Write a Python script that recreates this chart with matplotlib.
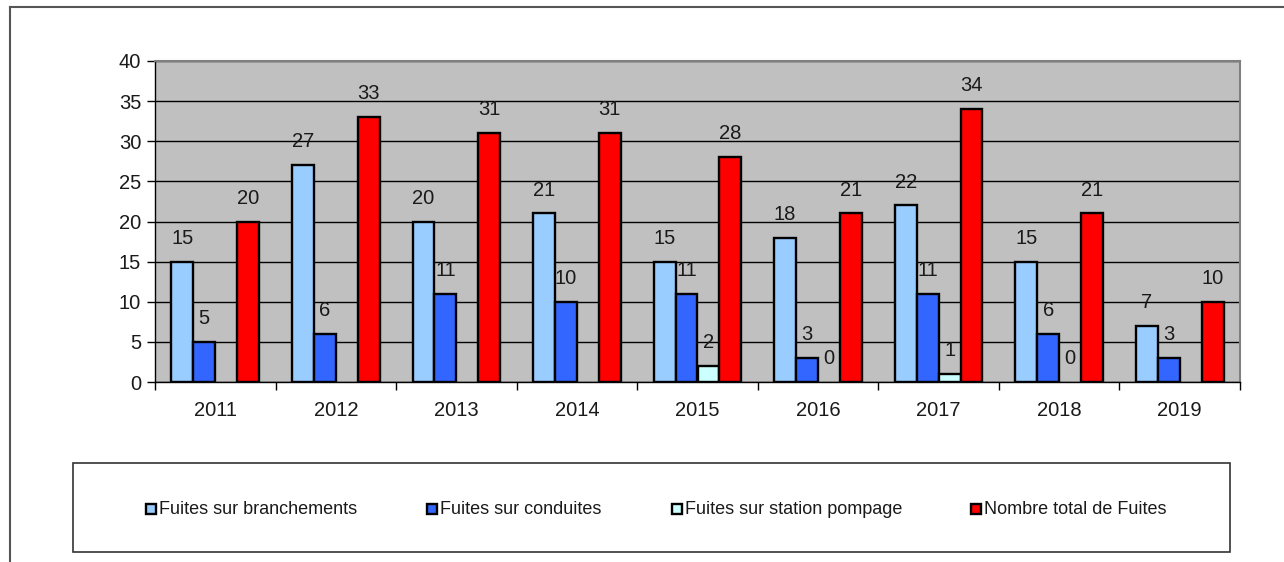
import numpy as np
import matplotlib
matplotlib.use("Agg")
from matplotlib import pyplot as plt
from matplotlib.lines import Line2D
from matplotlib.patches import Rectangle

plt.rcParams['font.family'] = ['Liberation Sans', 'DejaVu Sans']

# data
years = ['2011', '2012', '2013', '2014', '2015', '2016', '2017', '2018', '2019']
branchements = [15, 27, 20, 21, 15, 18, 22, 15, 7]
conduites = [5, 6, 11, 10, 11, 3, 11, 6, 3]
station = [None, None, None, None, 2, 0, 1, 0, None]
total = [20, 33, 31, 31, 28, 21, 34, 21, 10]

series = [
    ('Fuites sur branchements', branchements, '#99CCFF'),
    ('Fuites sur conduites', conduites, '#3366FF'),
    ('Fuites sur station pompage', station, '#CCFFFF'),
    ('Nombre total de Fuites', total, '#FF0000'),
]

fig = plt.figure(figsize=(12.84, 5.62), dpi=100)
W, H = 1284, 562
ax = fig.add_axes([155 / W, 1 - 382 / H, (1240 - 155) / W, (382 - 61) / H])
ax.set_facecolor('#C0C0C0')

x = np.arange(len(years))
bw = 0.182
for k, (name, vals, col) in enumerate(series):
    pos = x + (k - 1.5) * bw
    for p, v in zip(pos, vals):
        if v is None:
            continue
        if v > 0:
            ax.bar(p, v, width=bw, color=col, edgecolor='black', linewidth=1.7, zorder=3)
        ax.annotate(str(v), (p, v), xytext=(0, 10), textcoords='offset points',
                    ha='center', va='bottom', fontsize=14.5, color='#1a1a1a')

ax.set_xlim(-0.5, len(years) - 0.5)
ax.set_ylim(0, 40)
ax.set_yticks(range(0, 41, 5))
ax.yaxis.grid(True, color='black', linewidth=1, zorder=1)
ax.set_axisbelow(True)
ax.set_xticks(x)
ax.set_xticklabels(years)
ax.set_xticks(np.arange(-0.5, len(years), 1), minor=True)
ax.tick_params(axis='x', which='major', length=0, labelsize=14.5, pad=14, labelcolor='#1a1a1a')
ax.tick_params(axis='x', which='minor', length=6, width=1)
ax.tick_params(axis='y', length=6, width=1, labelsize=14.5, pad=4, labelcolor='#1a1a1a')
for s in ['top', 'right']:
    ax.spines[s].set_color('#808080')
    ax.spines[s].set_linewidth(1.5)
for s in ['left', 'bottom']:
    ax.spines[s].set_color('black')
    ax.spines[s].set_linewidth(1)

# legend box, entries placed like the original
fig.patches.append(Rectangle((73 / W, 1 - 552 / H), (1230 - 73) / W, (552 - 463) / H,
                             transform=fig.transFigure, fill=False,
                             edgecolor='#333333', linewidth=1.2))
legend_x = [151, 432, 677, 976]
legend_y = 1 - 509 / H
for lx, (name, vals, col) in zip(legend_x, series):
    fig.patches.append(Rectangle(((lx - 5) / W, legend_y - 5 / H), 10 / W, 10 / H,
                                 transform=fig.transFigure, facecolor=col,
                                 edgecolor='black', linewidth=1.7))
    fig.text((lx + 8) / W, legend_y, name, fontsize=13, va='center', ha='left',
             color='#1a1a1a')

# outer frame (cropped at the right and bottom)
fig.add_artist(Line2D([10 / W, 1], [1 - 7 / H, 1 - 7 / H], transform=fig.transFigure,
                      color='#555555', linewidth=1.5))
fig.add_artist(Line2D([10 / W, 10 / W], [0, 1 - 7 / H], transform=fig.transFigure,
                      color='#555555', linewidth=1.5))

fig.savefig('out.png', dpi=100)
